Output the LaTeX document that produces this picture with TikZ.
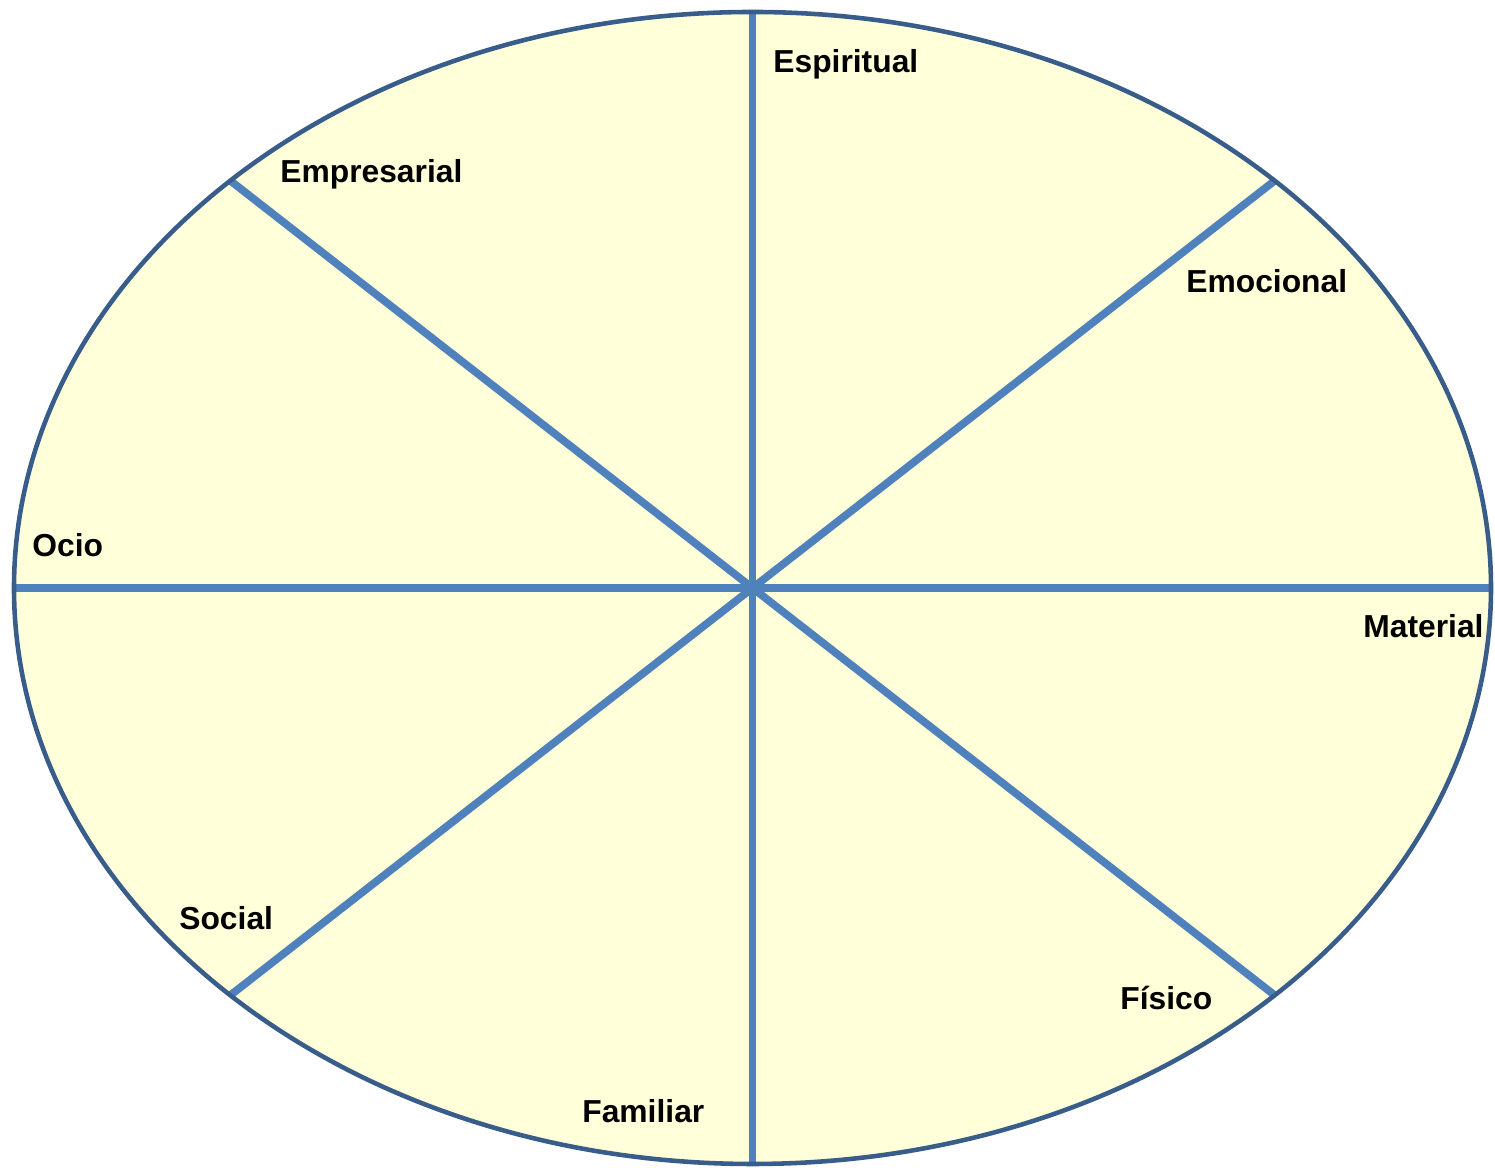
\documentclass[tikz,border=0pt]{standalone}
\usepackage{fontspec}
\setmainfont{Liberation Sans}
\usetikzlibrary{calc}
\definecolor{wheelfill}{RGB}{255,255,217}
\definecolor{wheelrim}{RGB}{56,93,138}
\definecolor{spoke}{RGB}{79,129,189}
\begin{document}
\begin{tikzpicture}[x=0.02cm,y=0.02cm,
    spokeline/.style={draw=spoke,line width=4.4pt},
    area/.style={anchor=base west,inner sep=0pt,font=\fontsize{18.1}{20}\selectfont\bfseries}]

      \useasboundingbox (0,0) rectangle (1495,1168);

      \coordinate (c) at (752.5,580);
      \fill[wheelfill] (c) ellipse (738.5 and 576);

      \foreach \a in {0,45,...,315}
        \coordinate (r\a) at ($(c)+(\a:738.5 and 576)$);

      \foreach \a in {0,45,...,315}
        \draw[spokeline] (c) -- (r\a);

      \draw[wheelrim,line width=2.6pt] (c) ellipse (738.5 and 576);

      \begin{scope}[every node/.style={area}]
        \node (espiritual)  at (773,1095) {Espiritual};
        \node (empresarial) at (280,985)  {Empresarial};
        \node (emocional)   at (1186,875) {Emocional};
        \node (ocio)        at (32,611)   {Ocio};
        \node (material)    at (1363,530) {Material};
        \node (social)      at (179,238)  {Social};
        \node (fisico)      at (1120,158) {Físico};
        \node (familiar)    at (582,45)   {Familiar};
      \end{scope}

    \end{tikzpicture}
\end{document}
